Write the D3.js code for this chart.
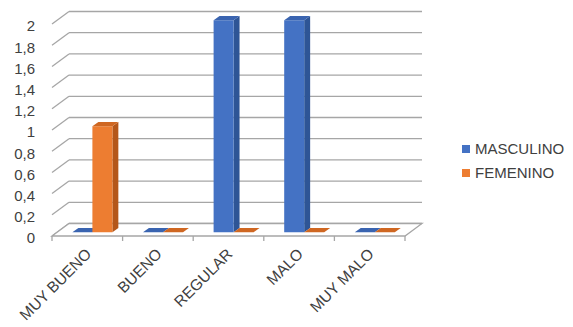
<!DOCTYPE html>
<html>
<head>
<meta charset="utf-8">
<script src="https://cdn.jsdelivr.net/npm/d3@7"></script>
<style>
  html, body { margin: 0; padding: 0; background: #fff; }
  svg { display: block; font-family: "Liberation Sans", Arial, sans-serif; }
</style>
</head>
<body>
<svg id="chart" width="573" height="327"></svg>
<script>
// Chart data
const categories = ["MUY BUENO", "BUENO", "REGULAR", "MALO", "MUY MALO"];
const seriesNames = ["MASCULINO", "FEMENINO"];
const masculino = [0, 0, 2, 2, 0];
const femenino = [1, 0, 0, 0, 0];
const yTicks = [0, 0.2, 0.4, 0.6, 0.8, 1, 1.2, 1.4, 1.6, 1.8, 2];

const series = [masculino, femenino];
const colors = [
  { front: "#4472C4", side: "#2E5596", top: "#3A64B0" },
  { front: "#ED7D31", side: "#B4571A", top: "#CF6722" }
];

const svg = d3.select("#chart");

// Front plane of the 3D box and the depth offset to its back wall
const frontLeft = 52, frontRight = 405;
const depthX = 17, depthY = -12.5;

const x = d3.scaleBand().domain(categories).range([frontLeft, frontRight]);
const y = d3.scaleLinear().domain([0, 2]).range([236, 24]);

const gridColor = "#A6A6A6";

// Back wall gridlines plus the left-wall diagonals
const grid = svg.append("g");
yTicks.forEach(v => {
  const yf = y(v), yb = y(v) + depthY;
  grid.append("line")
    .attr("x1", frontLeft).attr("y1", yf)
    .attr("x2", frontLeft + depthX).attr("y2", yb)
    .attr("stroke", gridColor).attr("stroke-width", 1.3);
  grid.append("line")
    .attr("x1", frontLeft + depthX).attr("y1", yb)
    .attr("x2", frontRight + depthX).attr("y2", yb)
    .attr("stroke", gridColor).attr("stroke-width", 1.3);
});

// Floor
const y0 = y(0);
svg.append("path")
  .attr("d", `M${frontLeft},${y0}L${frontRight},${y0}L${frontRight + depthX},${y0 + depthY}L${frontLeft + depthX},${y0 + depthY}Z`)
  .attr("fill", "#fff").attr("stroke", gridColor).attr("stroke-width", 1.3);

// Category tick marks along the front edge
const tickXs = categories.map(c => x(c)).concat([frontRight]);
svg.append("g").selectAll("line").data(tickXs).join("line")
  .attr("x1", d => d).attr("x2", d => d)
  .attr("y1", y0).attr("y2", y0 + 5)
  .attr("stroke", gridColor).attr("stroke-width", 1.3);

// Bars: front face at 30% depth, back at 65% depth
const f0 = 0.3, f1 = 0.65;
const ox0 = depthX * f0, oy0 = depthY * f0;
const sx = depthX * (f1 - f0), sy = depthY * (f1 - f0);
const barW = 20;

const bars = svg.append("g");
categories.forEach((c, i) => {
  const cx = x(c) + x.bandwidth() / 2 + ox0;
  series.forEach((vals, s) => {
    const v = vals[i];
    const x1 = cx + (s === 0 ? -barW : 0);
    const x2 = x1 + barW;
    const yb = y(0) + oy0;
    const yt = y(v) + oy0;
    const col = colors[s];
    if (v > 0) {
      bars.append("path")
        .attr("d", `M${x2},${yb}L${x2 + sx},${yb + sy}L${x2 + sx},${yt + sy}L${x2},${yt}Z`)
        .attr("fill", col.side);
      bars.append("rect")
        .attr("x", x1).attr("y", yt)
        .attr("width", barW).attr("height", yb - yt)
        .attr("fill", col.front);
    }
    bars.append("path")
      .attr("d", `M${x1},${yt}L${x2},${yt}L${x2 + sx},${yt + sy}L${x1 + sx},${yt + sy}Z`)
      .attr("fill", col.top);
  });
});

// Y axis labels
const fmt = v => String(v).replace(".", ",");
svg.append("g").selectAll("text").data(yTicks).join("text")
  .attr("x", 35).attr("y", d => y(d) + 2)
  .attr("dy", "0.36em")
  .attr("text-anchor", "end")
  .attr("font-size", 15).attr("fill", "#404040")
  .text(fmt);

// Category labels rotated 45°
svg.append("g").selectAll("text").data(categories).join("text")
  .attr("transform", d => `translate(${x(d) + x.bandwidth() / 2 + 5},${y0 + 19}) rotate(-45)`)
  .attr("text-anchor", "end")
  .attr("font-size", 15.5).attr("fill", "#404040")
  .text(d => d);

// Legend
const legend = svg.append("g").selectAll("g").data(seriesNames).join("g")
  .attr("transform", (d, i) => `translate(462,${145 + i * 24})`);
legend.append("rect")
  .attr("width", 8).attr("height", 8)
  .attr("fill", (d, i) => colors[i].front);
legend.append("text")
  .attr("x", 13).attr("y", 4).attr("dy", "0.36em")
  .attr("font-size", 15).attr("fill", "#404040")
  .text(d => d);
</script>
</body>
</html>
